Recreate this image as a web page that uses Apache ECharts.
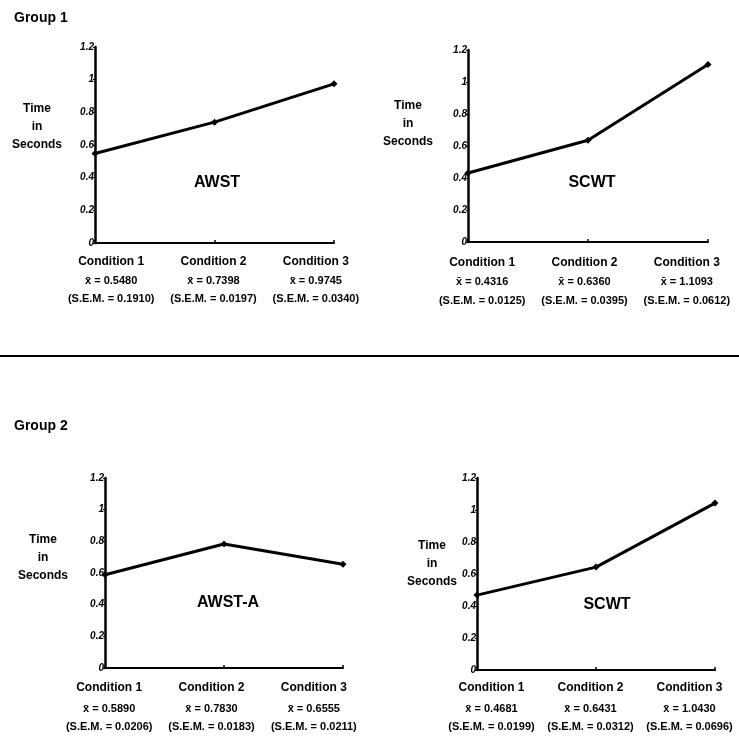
<!DOCTYPE html>
<html>
<head>
<meta charset="utf-8">
<script src="https://cdn.jsdelivr.net/npm/echarts@6/dist/echarts.min.js"></script>
<style>
html,body{margin:0;padding:0;background:#fff;}
#chart{width:739px;height:741px;}
</style>
</head>
<body>
<div id="chart"></div>
<script>
// ---- data ----
const categories = ['Condition 1', 'Condition 2', 'Condition 3'];
const yTicks = [0, 0.2, 0.4, 0.6, 0.8, 1, 1.2];

const g1AwstMeans = [0.5480, 0.7398, 0.9745];
const g1AwstSem   = [0.1910, 0.0197, 0.0340];
const g1ScwtMeans = [0.4316, 0.6360, 1.1093];
const g1ScwtSem   = [0.0125, 0.0395, 0.0612];
const g2AwstaMeans = [0.5890, 0.7830, 0.6555];
const g2AwstaSem   = [0.0206, 0.0183, 0.0211];
const g2ScwtMeans = [0.4681, 0.6431, 1.0430];
const g2ScwtSem   = [0.0199, 0.0312, 0.0696];

const panelNames = ['AWST', 'SCWT', 'AWST-A', 'SCWT'];
const groupNames = ['Group 1', 'Group 2'];
const yAxisName = 'Time\nin\nSeconds';

// ---- layout ----
const FONT = '"Liberation Sans", Arial, Helvetica, sans-serif';
const panels = [
  { means: g1AwstMeans, sem: g1AwstSem, grid: {left: 95, top: 47, width: 239, height: 196},
    lab: {left: 60, width: 307}, margin: 9.5, lh: [19, 19, 17],
    name: {x: 217, y: 183}, yname: {x: 37, y: 127} },
  { means: g1ScwtMeans, sem: g1ScwtSem, grid: {left: 468, top: 50, width: 240, height: 192},
    lab: {left: 431, width: 307}, margin: 11, lh: [19, 19, 19],
    name: {x: 592, y: 183}, yname: {x: 408, y: 124} },
  { means: g2AwstaMeans, sem: g2AwstaSem, grid: {left: 105, top: 478, width: 238, height: 190},
    lab: {left: 58, width: 307}, margin: 9, lh: [22, 20, 16],
    name: {x: 228, y: 603}, yname: {x: 43, y: 558} },
  { means: g2ScwtMeans, sem: g2ScwtSem, grid: {left: 477, top: 478, width: 238, height: 192},
    lab: {left: 442, width: 306}, margin: 7, lh: [22, 20, 16],
    name: {x: 607, y: 605}, yname: {x: 432, y: 564} }
];

const grids = [], xAxes = [], yAxes = [], series = [], graphics = [];

panels.forEach((p, i) => {
  // data grid
  grids.push(Object.assign({containLabel: false}, p.grid));
  const gi = grids.length - 1;
  xAxes.push({
    gridIndex: gi, type: 'category', data: categories, boundaryGap: false,
    axisLine: {show: true, lineStyle: {color: '#000', width: 2}},
    axisTick: {show: true, inside: true, length: 3, lineStyle: {color: '#000', width: 1.5}},
    axisLabel: {show: false}, splitLine: {show: false}
  });
  yAxes.push({
    gridIndex: gi, type: 'value', min: yTicks[0], max: yTicks[yTicks.length - 1], interval: 0.2,
    axisLine: {show: true, lineStyle: {color: '#000', width: 2.5}},
    axisTick: {show: true, length: 2, lineStyle: {color: '#000', width: 1}},
    axisLabel: {show: true, margin: 1, color: '#000', fontSize: 10, fontStyle: 'italic', fontWeight: 'bold',
      fontFamily: FONT, formatter: v => String(+v.toFixed(1))},
    splitLine: {show: false}
  });
  series.push({
    type: 'line', xAxisIndex: xAxes.length - 1, yAxisIndex: yAxes.length - 1,
    data: p.means, symbol: 'diamond', symbolSize: 7, showSymbol: true,
    lineStyle: {color: '#000', width: 3}, itemStyle: {color: '#000'},
    silent: true, animation: false
  });

  // label grid (text only)
  grids.push({left: p.lab.left, width: p.lab.width, top: p.grid.top, height: p.grid.height});
  const li = grids.length - 1;
  const means = p.means, sem = p.sem;
  xAxes.push({
    gridIndex: li, type: 'category', data: categories, boundaryGap: true,
    axisLine: {show: false}, axisTick: {show: false}, splitLine: {show: false},
    axisLabel: {
      show: true, interval: 0, margin: p.margin, color: '#000', fontFamily: FONT,
      formatter: (v, idx) => '{c|' + v + '}\n{m|x\u0304 = ' + means[idx].toFixed(4) + '}\n{s|(S.E.M. = ' + sem[idx].toFixed(4) + ')}',
      rich: {
        c: {fontSize: 12, fontWeight: 'bold', fontFamily: FONT, color: '#000', lineHeight: p.lh[0], align: 'center'},
        m: {fontSize: 11, fontWeight: 'bold', fontFamily: FONT, color: '#000', lineHeight: p.lh[1], align: 'center'},
        s: {fontSize: 11, fontWeight: 'bold', fontFamily: FONT, color: '#000', lineHeight: p.lh[2], align: 'center'}
      }
    }
  });
  yAxes.push({gridIndex: li, type: 'value', show: false, min: 0, max: 1});

  // panel name and y-axis name
  graphics.push({
    type: 'text', x: p.name.x, y: p.name.y, silent: true,
    style: {text: panelNames[i], font: 'bold 16px ' + FONT, fill: '#000',
      align: 'center', verticalAlign: 'middle', textAlign: 'center', textVerticalAlign: 'middle'}
  });
  graphics.push({
    type: 'text', x: p.yname.x, y: p.yname.y, silent: true,
    style: {text: yAxisName, font: 'bold 12px ' + FONT, fill: '#000', lineHeight: 18,
      align: 'center', verticalAlign: 'middle', textAlign: 'center', textVerticalAlign: 'middle'}
  });
});

// group titles
graphics.push({type: 'text', x: 14, y: 18, silent: true,
  style: {text: groupNames[0], font: 'bold 14px ' + FONT, fill: '#000', verticalAlign: 'middle', textVerticalAlign: 'middle'}});
graphics.push({type: 'text', x: 14, y: 426, silent: true,
  style: {text: groupNames[1], font: 'bold 14px ' + FONT, fill: '#000', verticalAlign: 'middle', textVerticalAlign: 'middle'}});
// divider
graphics.push({type: 'line', silent: true, shape: {x1: 0, y1: 356, x2: 739, y2: 356},
  style: {stroke: '#000', lineWidth: 2}});

const chart = echarts.init(document.getElementById('chart'), null, {renderer: 'canvas'});
chart.setOption({
  backgroundColor: '#fff',
  animation: false,
  grid: grids,
  xAxis: xAxes,
  yAxis: yAxes,
  series: series,
  graphic: graphics
});
</script>
</body>
</html>
